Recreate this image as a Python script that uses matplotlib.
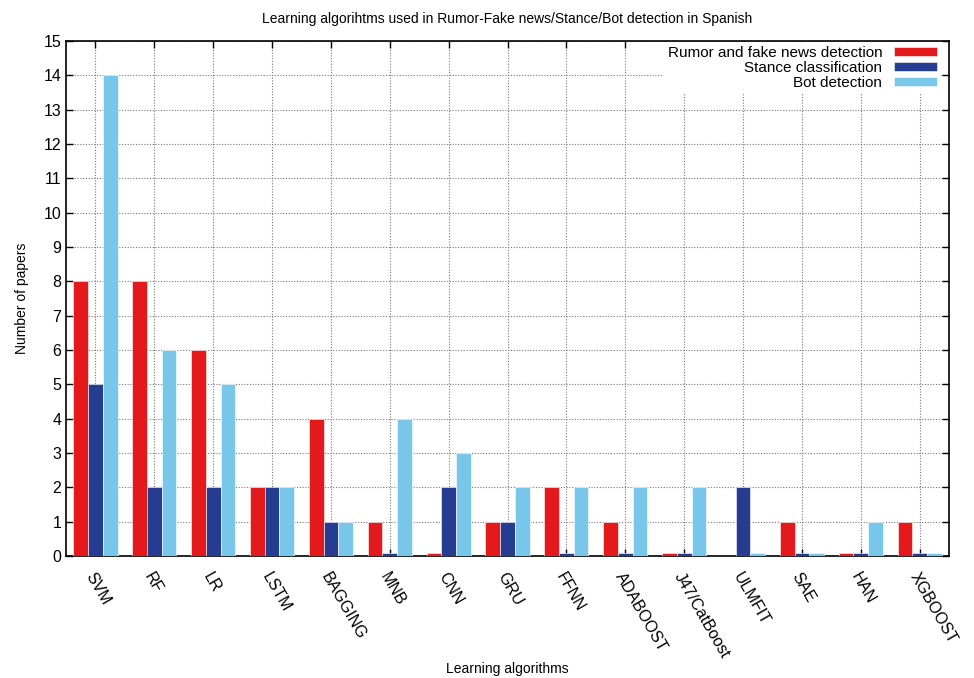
import matplotlib.pyplot as plt
import numpy as np

algorithms = ['SVM', 'RF', 'LR', 'LSTM', 'BAGGING', 'MNB', 'CNN', 'GRU', 'FFNN',
              'ADABOOST', 'J47/CatBoost', 'ULMFIT', 'SAE', 'HAN', 'XGBOOST']
# 0.1 marks "no papers" but still drawn as a thin stub
rumor = [8, 8, 6, 2, 4, 1, 0.1, 1, 2, 1, 0.1, 0, 1, 0.1, 1]
stance = [5, 2, 2, 2, 1, 0.1, 2, 1, 0.1, 0.1, 0.1, 2, 0.1, 0.1, 0.1]
bot = [14, 6, 5, 2, 1, 4, 3, 2, 2, 2, 2, 0.1, 0.1, 1, 0.1]

series = [
    ('Rumor and fake news detection', rumor, '#e3191c'),
    ('Stance classification', stance, '#253c90'),
    ('Bot detection', bot, '#78c7eb'),
]

plt.rcParams['font.family'] = ['Liberation Sans', 'DejaVu Sans']

fig = plt.figure(figsize=(9.74, 6.78), dpi=100)
ax = fig.add_axes([0.0678, 0.18, 0.9066, 0.7595])

x = np.arange(len(algorithms))
width = 0.25
for k, (name, vals, col) in enumerate(series):
    vals = np.array(vals, dtype=float)
    keep = vals > 0
    ax.bar(x[keep] + (k - 1) * width, vals[keep], width, color=col, label=name,
           edgecolor='white', linewidth=0.4, zorder=3)

ax.set_xlim(-0.5, len(algorithms) - 0.5)
ax.set_ylim(0, 15)
ax.set_yticks(range(16))
ax.set_xticks(x)
ax.set_xticklabels(algorithms, rotation=-60, ha='left', va='top',
                   rotation_mode='anchor', fontsize=11.5)
ax.tick_params(axis='y', labelsize=11.5)
ax.tick_params(direction='in', length=5, top=True, right=True, width=1)
ax.tick_params(axis='x', pad=10)

ax.grid(True, linestyle=(0, (1, 1.5)), color='#777777', linewidth=0.8, zorder=0)
for s in ax.spines.values():
    s.set_linewidth(1.2)

ax.set_title('Learning algorihtms used in Rumor-Fake news/Stance/Bot detection in Spanish',
             fontsize=10, pad=13)
ax.set_ylabel('Number of papers', fontsize=10, labelpad=10)
ax.set_xlabel('Learning algorithms', fontsize=10)
ax.xaxis.set_label_coords(0.5, -0.205)

leg = ax.legend(loc='upper right', bbox_to_anchor=(0.991, 0.999),
                markerfirst=False, fontsize=11,
                frameon=True, fancybox=False, handlelength=2.8, handleheight=0.5,
                labelspacing=0.05, borderpad=0.3, borderaxespad=0.0,
                handletextpad=0.75)
leg.get_frame().set_edgecolor('none')
leg.get_frame().set_facecolor('white')
leg.get_frame().set_alpha(1)
leg.set_zorder(5)

fig.savefig('out.png', dpi=100)
